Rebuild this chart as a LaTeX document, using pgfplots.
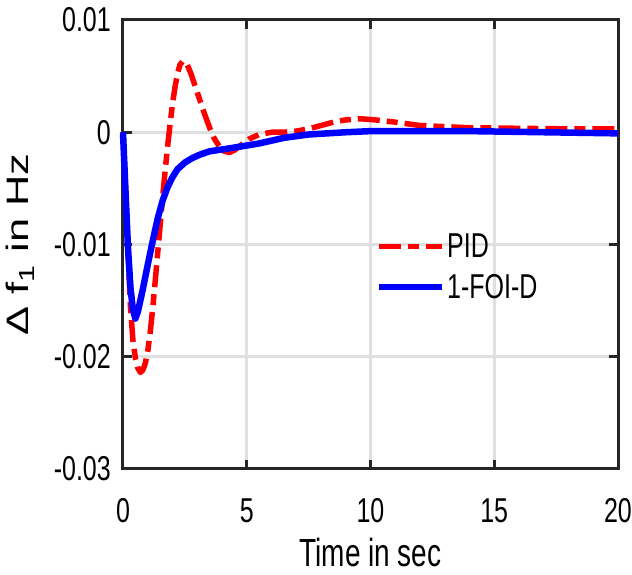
\documentclass[border=0pt]{standalone}
\usepackage{pgfplots}
\pgfplotsset{compat=1.18}
\usepackage{graphicx}
\usepackage{fontspec}
\setmainfont{Liberation Sans}
\newcommand\sy[1]{\scalebox{1}[1.38]{#1}}
\definecolor{axgray}{RGB}{38,38,38}
\begin{document}
\begin{tikzpicture}
\begin{axis}[
  scale only axis, width=495pt, height=449pt,
  at={(0,0)}, anchor=south west,
  xmin=0, xmax=20, ymin=-0.03, ymax=0.01,
  xtick={0,5,10,15,20},
  xticklabels={\sy{0},\sy{5},\sy{10},\sy{15},\sy{20}},
  ytick={-0.03,-0.02,-0.01,0,0.01},
  yticklabels={\sy{-0.03},\sy{-0.02},\sy{-0.01},\sy{0},\sy{0.01}},
  scaled y ticks=false,
  grid=major,
  major grid style={gray!25, line width=3pt},
  axis line style={axgray, line width=3pt},
  every tick/.style={axgray, line width=3pt},
  tick align=inside, major tick length=9pt,
  xticklabel style={font=\fontsize{25}{25}\selectfont, anchor=center, yshift=-42pt},
  yticklabel style={font=\fontsize{25}{25}\selectfont, anchor=east, inner sep=0pt, xshift=-12pt},
  xlabel={\scalebox{1}[1.4]{Time in sec}},
  xlabel style={at={(axis description cs:0.5,-0.186)}, anchor=center, font=\fontsize{28}{28}\selectfont},
  ylabel={\scalebox{1.4}[1]{Δ f\textsubscript{1} in Hz}},
  ylabel style={at={(axis description cs:-0.208,0.5)}, anchor=center, font=\fontsize{31}{31}\selectfont},
  clip=false,
  legend style={draw=none, fill=none, at={(axis description cs:0.51,0.528)}, anchor=north west,
    inner sep=0pt, row sep=11pt, font=\fontsize{25}{25}\selectfont, nodes={inner sep=2pt}},
  legend cell align=left,
  legend image code/.code={\draw[#1] (0pt,0pt) -- (63pt,0pt);},
]
\addplot[red, line width=5.5pt, dash pattern=on 22pt off 7pt on 11pt off 7pt, line join=round] table {
0 0
0.1 -0.0050
0.2 -0.0105
0.3 -0.0155
0.4 -0.0185
0.5 -0.0201
0.6 -0.0210
0.7 -0.0214
0.8 -0.0212
0.9 -0.0206
1.0 -0.0195
1.1 -0.0178
1.2 -0.0157
1.3 -0.0133
1.4 -0.0108
1.5 -0.0083
1.6 -0.0058
1.7 -0.0035
1.8 -0.0013
1.9 0.0007
2.0 0.0025
2.1 0.0040
2.2 0.0052
2.3 0.0060
2.4 0.0063
2.5 0.0063
2.6 0.0060
2.75 0.0052
2.9 0.0042
3.1 0.0029
3.3 0.0016
3.5 0.0004
3.7 -0.0006
3.9 -0.0013
4.1 -0.0017
4.3 -0.0018
4.5 -0.0016
4.8 -0.0011
5.1 -0.0006
5.5 -0.0002
6.0 0.0000
6.5 0.0000
7.0 0.0001
7.5 0.0003
8.0 0.0006
8.5 0.0009
9.0 0.0011
9.6 0.0012
10.2 0.0011
11.0 0.0009
12.0 0.0006
13.0 0.0005
14.0 0.0004
16.0 0.00035
18.0 0.0003
20.0 0.0003
};
\addlegendentry{\sy{PID}}
\addplot[blue, line width=6.5pt, line join=round] table {
0 0
0.1 -0.0052
0.2 -0.0102
0.3 -0.0138
0.4 -0.0158
0.5 -0.0166
0.6 -0.0160
0.7 -0.0150
0.8 -0.0140
0.9 -0.0129
1.0 -0.0118
1.2 -0.0097
1.4 -0.0077
1.6 -0.0061
1.8 -0.0049
2.0 -0.0040
2.2 -0.0033
2.5 -0.0027
2.8 -0.0023
3.1 -0.0020
3.5 -0.0017
4.4 -0.0014
5.5 -0.0010
6.5 -0.0005
7.5 -0.0002
9.0 0.0000
10.0 0.0001
14.0 0.0001
17.0 0.0000
20.0 -0.0001
};
\addlegendentry{\sy{1-FOI-D}}
\end{axis}
\pgfresetboundingbox
\path (-123pt,-106pt) rectangle (509pt,469pt);
\end{tikzpicture}
\end{document}
